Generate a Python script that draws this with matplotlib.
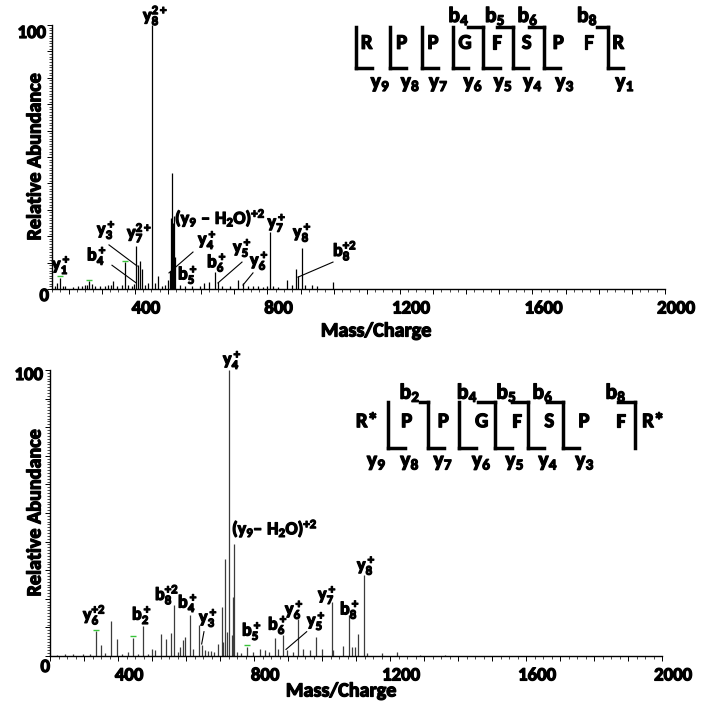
import os
import matplotlib
matplotlib.use("Agg")
import matplotlib.pyplot as plt
import matplotlib.patheffects as pe
from matplotlib import font_manager as fm
from matplotlib.ticker import MultipleLocator, NullFormatter


def first_bold_family(candidates):
    for fam in candidates:
        try:
            path = fm.findfont(fm.FontProperties(family=fam, weight="bold"),
                               fallback_to_default=False)
        except Exception:
            continue
        if "bold" in os.path.basename(path).lower():
            return fam
    return "DejaVu Sans"


FAMILY = first_bold_family(["Carlito", "Lato", "Noto Sans", "Open Sans", "Roboto",
                            "Liberation Sans"])
plt.rcParams["font.family"] = [FAMILY, "DejaVu Sans"]
plt.rcParams["font.weight"] = "bold"
plt.rcParams["mathtext.fontset"] = "custom"
for key in ("rm", "it", "bf"):
    plt.rcParams["mathtext." + key] = f"{FAMILY}:bold"
plt.rcParams["mathtext.default"] = "rm"

# heavier strokes for all lettering
HEAVY = [pe.withStroke(linewidth=0.9, foreground="black")]

# ---------------- spectrum 1: native peptide (m/z, relative abundance %) ----------------
top_mz = [159, 166, 174, 182, 189, 214, 229, 240, 250, 257, 263, 270, 280, 295, 310,
          320, 328, 335, 345, 360, 371, 380, 391, 396, 403.5, 408.6, 415.6, 420.7, 431,
          441, 453, 461, 471, 481, 491, 501, 506, 509, 513, 516, 519, 522, 536, 551,
          572, 597, 609, 625, 642, 652, 662, 687, 710, 727, 742, 758, 773, 788, 798,
          808, 818, 833, 858, 873, 885.5, 891.5, 905, 914, 934, 949, 999]
top_int = [1.0, 2.3, 4.2, 1.3, 1.0, 0.8, 1.0, 1.3, 1.4, 1.6, 2.9, 2.0, 1.0, 1.0, 1.3,
           1.5, 1.6, 3.2, 1.3, 1.6, 10.1, 1.5, 1.0, 2.0, 16.2, 9.2, 10.7, 7.6, 1.6,
           2.3, 100, 2.3, 5.0, 1.0, 1.6, 3.3, 7.0, 26.8, 43.8, 25.0, 27.5, 12.0, 1.6, 1.0,
           1.3, 1.3, 2.3, 2.5, 6.6, 2.5, 1.3, 1.3, 3.3, 2.3, 1.0, 1.3, 1.0, 0.8, 1.0,
           21.5, 1.0, 0.8, 3.5, 1.6, 7.7, 4.8, 15.5, 1.6, 1.6, 1.0, 2.5]
top_marked = [174, 263, 371]

# ---------------- spectrum 2: modified peptide ----------------
bot_mz = [220, 244, 268.5, 298, 317.6, 335.3, 350, 362, 379.4, 396.2, 411, 430.3,
          445, 459, 474.4, 488, 499, 509, 526.5, 541, 555, 564.7, 576.4, 582.3, 592,
          597, 611.7, 621.4, 639, 646, 656, 665, 673.5, 682, 695, 705, 709.7, 714.7,
          719.7, 727.3, 734.4, 739, 742, 749, 761.7, 778.5, 798, 817.6, 832.3, 845,
          861.7, 871.4, 886, 896, 913.8, 930.2, 945, 964.7, 982.3, 999, 1028.5, 1033,
          1062.6, 1080.3, 1087.3, 1097, 1106.7, 1124.4, 1132, 1175.5, 1221.4, 1288, 1362]
bot_int = [0.5, 0.6, 0.8, 0.6, 0.8, 8.6, 4.0, 1.0, 12.3, 6.1, 0.8, 1.4,
           6.4, 0.8, 10.4, 0.8, 2.6, 2.0, 7.8, 6.1, 8.0, 17.7, 1.5, 3.1, 5.7,
           6.6, 14.2, 2.6, 10.7, 4.0, 2.0, 1.8, 1.6, 1.4, 4.3, 17.2, 5.0, 34.0,
           8.4, 100, 7.5, 20.7, 39.0, 1.4, 1.0, 3.1, 1.4, 2.6, 2.0, 1.4,
           6.4, 2.6, 7.3, 2.0, 1.4, 13.1, 2.6, 2.0, 6.6, 2.6, 19.0, 2.0,
           3.6, 14.2, 3.1, 3.2, 7.8, 28.3, 1.0, 1.0, 1.5, 0.5, 0.5]
bot_marked = [335.3, 445, 778.5]

x_ticks = [400, 800, 1200, 1600, 2000]

# sequence schematics
top_residues = ["R", "P", "P", "G", "F", "S", "P", "F", "R"]
top_b_ions = [4, 5, 6, 8]
top_y_ions = [9, 8, 7, 6, 5, 4, 3, 1]
bot_residues = ["R*", "P", "P", "G", "F", "S", "P", "F", "R*"]
bot_b_ions = [2, 4, 5, 6, 8]
bot_y_ions = [9, 8, 7, 6, 5, 4, 3]

fig = plt.figure(figsize=(7.17, 7.03), dpi=100)
W, H = 717.0, 703.0


def px_axes(left, top, right, bottom):
    return fig.add_axes([left / W, 1 - bottom / H, (right - left) / W, (bottom - top) / H])


ax1 = px_axes(52, 25, 665, 289)
ax2 = px_axes(50, 370, 662, 656)


def style_panel(ax, xmin, line_color, mz, inten, marked):
    ax.vlines(mz, 0, inten, color=line_color, lw=0.9)
    lookup = dict(zip(mz, inten))
    ax.plot(marked, [lookup[m] + 0.6 for m in marked], ls="none", marker="_",
            color="#39c43a", ms=4, mew=1.0)
    ax.set_xlim(xmin, 2000)
    ax.set_ylim(0, 100)
    for s in ("top", "right"):
        ax.spines[s].set_visible(False)
    for s in ("left", "bottom"):
        ax.spines[s].set_linewidth(1.0)
    ax.xaxis.set_major_locator(MultipleLocator(100))
    ax.xaxis.set_minor_locator(MultipleLocator(25))
    ax.yaxis.set_major_locator(MultipleLocator(10))
    ax.yaxis.set_minor_locator(MultipleLocator(1))
    for axis in (ax.xaxis, ax.yaxis):
        axis.set_major_formatter(NullFormatter())
        axis.set_minor_formatter(NullFormatter())
    ax.tick_params(which="major", direction="out", length=3.5, width=0.7)
    ax.tick_params(which="minor", direction="out", length=2.0, width=0.5)
    for v in x_ticks:
        ax.annotate(str(v), xy=(v, 0), xycoords=("data", "axes fraction"),
                    xytext=(8, -14), textcoords="offset points",
                    ha="center", va="center", fontsize=13.5, path_effects=HEAVY)


style_panel(ax1, 150, "black", top_mz, top_int, top_marked)
style_panel(ax2, 200, "#3c3c3c", bot_mz, bot_int, bot_marked)

LBL = dict(fontsize=13, ha="left", va="bottom", clip_on=False, path_effects=HEAVY)

# peak annotations, native peptide
top_labels = [
    (424.6, 98.9, r"$y_8^{2+}$"), (150, 4.5, r"$y_1^+$"), (255.6, 8.0, r"$b_4^+$"),
    (285.8, 17.8, r"$y_3^+$"), (376.4, 16.7, r"$y_7^{2+}$"),
    (521.2, 22.6, "$(y_9\\ \u2013\\ H_2O)^{+2}$"), (590.6, 14.0, r"$y_4^+$"),
    (530.3, 0.8, r"$b_5^+$"), (617.8, 5.4, r"$b_6^+$"), (696.3, 11.0, r"$y_5^+$"),
    (747.6, 6.1, r"$y_6^+$"), (800.5, 20.5, r"$y_7^+$"), (877.3, 16.7, r"$y_8^+$"),
    (998, 9.8, r"$b_8^{+2}$"),
]
for x, y, s in top_labels:
    ax1.text(x, y, s, **LBL)
top_leaders = [((322, 16.7), (407, 8.7)), ((331, 9.0), (404, 2.3)),
               ((575.5, 14.0), (503, 6.1)), ((723.4, 10.2), (651, 2.3)),
               ((756.6, 6.1), (726.4, 1.5)), ((998, 10.2), (892.4, 4.5))]
for (x0, y0), (x1, y1) in top_leaders:
    ax1.plot([x0, x1], [y0, y1], color="black", lw=0.8, clip_on=False)

# peak annotations, modified peptide
bot_labels = [
    (708.8, 99.3, r"$y_4^+$"), (735.3, 40.6, "$(y_9\u2013\\ H_2O)^{+2}$"),
    (297, 10.1, r"$y_6^{+2}$"), (441.2, 10.1, r"$b_2^+$"), (508.8, 17.1, r"$b_8^{+2}$"),
    (576.4, 14.3, r"$b_4^+$"), (638.2, 9.1, r"$y_3^+$"), (764.7, 4.5, r"$b_5^+$"),
    (841.1, 6.6, r"$b_6^+$"), (891.1, 11.9, r"$y_6^+$"), (955.8, 8.0, r"$y_5^+$"),
    (988.2, 17.1, r"$y_7^+$"), (1052.9, 11.9, r"$b_8^+$"), (1102.9, 27.3, r"$y_8^+$"),
]
for x, y, s in bot_labels:
    ax2.text(x, y, s, **LBL)
bot_leaders = [((652.9, 8.5), (646.1, 4.2)), ((955, 8.5), (894.1, 2.3))]
for (x0, y0), (x1, y1) in bot_leaders:
    ax2.plot([x0, x1], [y0, y1], color="black", lw=0.8, clip_on=False)

# overlay in pixel units for axis titles, y tick labels and the sequence schematics
ov = fig.add_axes([0, 0, 1, 1])
ov.set_xlim(0, W)
ov.set_ylim(H, 0)
ov.axis("off")

AX = dict(fontsize=14.5, ha="center", va="center", path_effects=HEAVY)
ov.text(35, 157, "Relative Abundance", rotation=90, **AX)
ov.text(35, 513, "Relative Abundance", rotation=90, **AX)
ov.text(376, 331, "Mass/Charge", **AX)
ov.text(341, 691, "Mass/Charge", **AX)

TK = dict(fontsize=13.5, ha="right", va="center", path_effects=HEAVY)
ov.text(46, 33, "100", **TK)
ov.text(49, 296, "0", **TK)
ov.text(43, 375, "100", **TK)
ov.text(50, 667, "0", **TK)


def draw_sequence(residues, b_ions, y_ions, lay):
    lw = 2.5
    for x, r in zip(lay["res_x"], residues):
        ov.text(x, lay["res_y"], r, fontsize=15, ha="center", va="center",
                path_effects=HEAVY)
    for xv, xt, xb in lay["brackets"]:
        ov.plot([xv, xv], [lay["top"], lay["bot"]], color="black", lw=lw,
                solid_capstyle="projecting")
        if xt is not None:
            ov.plot([xt, xv], [lay["top"], lay["top"]], color="black", lw=lw,
                    solid_capstyle="projecting")
        if xb is not None:
            ov.plot([xv, xb], [lay["bot"], lay["bot"]], color="black", lw=lw,
                    solid_capstyle="projecting")
    for n, x in zip(b_ions, lay["b_x"]):
        ov.text(x, lay["b_y"], f"$b_{{{n}}}$", fontsize=15.5, ha="center", va="center",
                path_effects=HEAVY)
    for n, x in zip(y_ions, lay["y_x"]):
        ov.text(x, lay["y_y"], f"$y_{{{n}}}$", fontsize=15.5, ha="center", va="center",
                path_effects=HEAVY)


draw_sequence(top_residues, top_b_ions, top_y_ions, dict(
    res_x=[366.7, 401.7, 433, 465, 496.7, 526.7, 558.3, 588.3, 618.3], res_y=43.3,
    top=26.7, bot=68.3,
    brackets=[(356, None, 371.7), (390, None, 406), (421.7, None, 438.3),
              (452.7, None, 468.3), (483.3, 468.3, 500), (512.7, 496.7, 528.3),
              (544.3, 529.3, 560), (608.3, 596.7, 623.3)],
    b_x=[459, 495.3, 528, 587.5], b_y=15.8,
    y_x=[380.5, 410.5, 438.7, 473.3, 503.3, 533, 565, 625], y_y=84))

draw_sequence(bot_residues, bot_b_ions, bot_y_ions, dict(
    res_x=[367, 406.7, 443.3, 481.7, 516.7, 549.3, 584, 621, 653.3], res_y=421.7,
    top=402.3, bot=448.3,
    brackets=[(388.3, None, 405), (428.3, 420, 444), (459.3, None, 476),
              (495, 478.3, 511.7), (528.3, 511.7, 544), (562.7, 546.7, 579.3),
              (635, 618.3, None)],
    b_x=[410, 467.5, 506.7, 543, 616], b_y=392.5,
    y_x=[376.7, 410, 443.3, 481.7, 515, 548.3, 585], y_y=462.5))

fig.savefig("out.png", dpi=100)
